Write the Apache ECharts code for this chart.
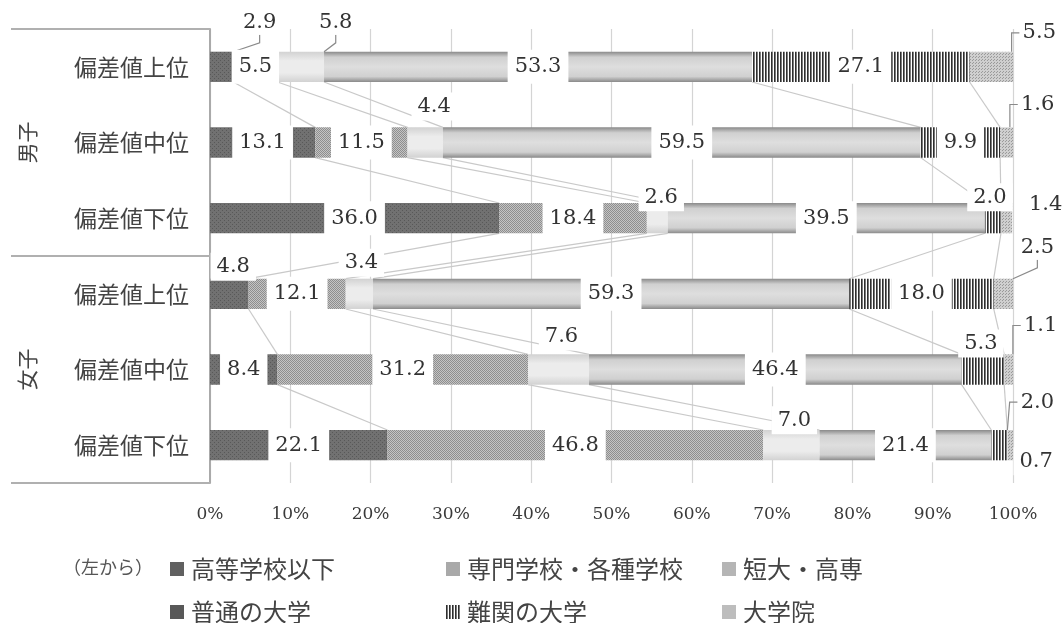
<!DOCTYPE html>
<html>
<head>
<meta charset="utf-8">
<script src="https://cdn.jsdelivr.net/npm/echarts@6/dist/echarts.min.js"></script>
<style>
  html, body { margin: 0; padding: 0; background: #fff; }
  #chart { width: 1064px; height: 623px; }
</style>
</head>
<body>
<div id="chart"></div>
<script>
// ---- data -------------------------------------------------------------
const rowLabels = ['偏差値上位', '偏差値中位', '偏差値下位', '偏差値上位', '偏差値中位', '偏差値下位'];
const groupLabels = ['男子', '女子'];
const seriesNames = ['高等学校以下', '専門学校・各種学校', '短大・高専', '普通の大学', '難関の大学', '大学院'];

const highSchool      = [2.9, 13.1, 36.0, 4.8, 8.4, 22.1];
const vocational      = [5.5, 11.5, 18.4, 12.1, 31.2, 46.8];
const juniorCollege   = [5.8, 4.4, 2.6, 3.4, 7.6, 7.0];
const university      = [53.3, 59.5, 39.5, 59.3, 46.4, 21.4];
const eliteUniversity = [27.1, 9.9, 2.0, 18.0, 5.3, 2.0];
const graduateSchool  = [5.5, 1.6, 1.4, 2.5, 1.1, 0.7];

const percentTicks = [0, 10, 20, 30, 40, 50, 60, 70, 80, 90, 100];

const seriesValues = [highSchool, vocational, juniorCollege, university, eliteUniversity, graduateSchool];

// ---- label placement (offset from segment centre, leader line flag) ----
// key: seriesIndex-rowIndex
const movedLabels = {
  '0-0': [38, -44, true],
  '2-0': [35, -44, true],
  '5-0': [48, -34, true],
  '2-1': [9, -36, false],
  '5-1': [31, -38, true],
  '2-2': [4, -21, false],
  '4-2': [-3, -21, false],
  '5-2': [39, -14, false],
  '0-3': [4, -27, false],
  '2-3': [2, -31, false],
  '5-3': [34, -46, true],
  '2-4': [3, -33, false],
  '4-4': [-2, -26, false],
  '5-4': [32, -44, true],
  '2-5': [3, -25, false],
  '4-5': [38, -43, true],
  '5-5': [26, 16, false]
};

// ---- fills --------------------------------------------------------------
function pattern(w, h, draw) {
  const c = document.createElement('canvas');
  c.width = w; c.height = h;
  draw(c.getContext('2d'));
  return { image: c, repeat: 'repeat' };
}
const fills = [
  pattern(4, 4, g => {            // dark dotted
    g.fillStyle = '#717171'; g.fillRect(0, 0, 4, 4);
    g.fillStyle = '#585858'; g.fillRect(0, 0, 1, 1); g.fillRect(2, 2, 1, 1);
  }),
  pattern(2, 2, g => {            // fine checker
    g.fillStyle = '#c4c4c4'; g.fillRect(0, 0, 2, 2);
    g.fillStyle = '#8e8e8e'; g.fillRect(0, 0, 1, 1); g.fillRect(1, 1, 1, 1);
  }),
  {                               // pale
    type: 'linear', x: 0, y: 0, x2: 0, y2: 1,
    colorStops: [
      { offset: 0, color: '#d2d2d2' }, { offset: 0.3, color: '#ececec' },
      { offset: 0.7, color: '#ececec' }, { offset: 1, color: '#d2d2d2' }
    ]
  },
  {                               // shaded light gray
    type: 'linear', x: 0, y: 0, x2: 0, y2: 1,
    colorStops: [
      { offset: 0, color: '#8a8a8a' }, { offset: 0.18, color: '#d0d0d0' },
      { offset: 0.5, color: '#dedede' }, { offset: 0.82, color: '#d0d0d0' },
      { offset: 1, color: '#8a8a8a' }
    ]
  },
  pattern(3, 2, g => {            // vertical stripes
    g.fillStyle = '#ffffff'; g.fillRect(0, 0, 3, 2);
    g.fillStyle = '#2e2e2e'; g.fillRect(0, 0, 1, 2);
    g.fillStyle = '#7a7a7a'; g.fillRect(1, 0, 1, 2);
  }),
  pattern(3, 3, g => {            // light dotted
    g.fillStyle = '#cfcfcf'; g.fillRect(0, 0, 3, 3);
    g.fillStyle = '#9a9a9a'; g.fillRect(0, 0, 1, 1); g.fillRect(1, 2, 1, 1);
  })
];
const legendColors = ['#606060', '#a9a9a9', '#b5b5b5', '#585858', null, '#bdbdbd'];

// cumulative boundaries for the connecting lines
const cumulative = rowLabels.map((_, r) => {
  let s = 0;
  return seriesValues.slice(0, 5).map(arr => (s += arr[r]));
});

const serifFont = 'DejaVu Serif';
const sansFont = 'Noto Sans CJK JP';

const barSeries = seriesNames.map((name, si) => ({
  name,
  type: 'bar',
  stack: 'total',
  barCategoryGap: '60%',
  z: 2,
  itemStyle: { color: fills[si] },
  label: {
    show: true,
    position: 'inside',
    formatter: p => Number(p.value).toFixed(1),
    color: '#333',
    fontFamily: serifFont,
    fontSize: 21,
    lineHeight: 22,
    backgroundColor: '#fff',
    padding: [6, 7],
    textBorderWidth: 0
  },
  labelLine: { show: false, lineStyle: { color: '#8a8a8a', width: 1.2 } },
  labelLayout: p => {
    const m = movedLabels[p.seriesIndex + '-' + p.dataIndex];
    return m ? { dx: m[0], dy: m[1] } : {};
  },
  emphasis: { disabled: true },
  data: seriesValues[si].map((v, r) => {
    const m = movedLabels[si + '-' + r];
    if (!m) return v;
    return {
      value: v,
      label: { padding: m[2] ? [2, 3] : [4, 6], lineHeight: 20 },
      labelLine: { show: m[2], length2: 8, lineStyle: { color: '#8a8a8a', width: 1.2 } }
    };
  })
}));

const connectorSeries = {
  type: 'custom',
  coordinateSystem: 'cartesian2d',
  silent: true,
  z: 1,
  data: rowLabels.slice(0, -1).map((_, r) => [0, r]),
  renderItem: (params, api) => {
    const r = params.dataIndex;
    const half = api.size([0, 1])[1] * 0.2;
    const children = cumulative[r].map((v, k) => {
      const a = api.coord([v, r]);
      const b = api.coord([cumulative[r + 1][k], r + 1]);
      return {
        type: 'line',
        shape: { x1: a[0], y1: a[1] + half, x2: b[0], y2: b[1] - half },
        style: { stroke: '#c9c9c9', lineWidth: 1.2 }
      };
    });
    return { type: 'group', children };
  }
};

const legendLeft = [165, 441, 717, 165, 441, 717];
const legendTop = [552, 552, 552, 595, 595, 595];
const legends = seriesNames.map((name, i) => ({
  data: [legendColors[i] ? { name, itemStyle: { color: legendColors[i] } } : { name }],
  left: legendLeft[i],
  top: legendTop[i],
  icon: 'rect',
  itemWidth: 14,
  itemHeight: 14,
  selectedMode: false,
  textStyle: { fontFamily: sansFont, fontSize: 24, color: '#444', padding: [0, 0, 0, 2] }
}));

const chart = echarts.init(document.getElementById('chart'), null, { renderer: 'canvas' });
chart.setOption({
  animation: false,
  backgroundColor: '#fff',
  title: {
    text: '（左から）',
    left: 58,
    top: 553,
    textStyle: { fontFamily: sansFont, fontSize: 18, fontWeight: 'normal', color: '#555' }
  },
  legend: legends,
  grid: { left: 210, right: 51, top: 29, bottom: 140, outerBoundsMode: 'none' },
  xAxis: {
    type: 'value',
    min: percentTicks[0],
    max: percentTicks[percentTicks.length - 1],
    interval: 10,
    axisLine: { show: false },
    axisTick: { show: false },
    splitLine: { show: true, lineStyle: { color: '#d4d4d4', width: 1.2 } },
    axisLabel: {
      margin: 23,
      formatter: '{value}%',
      fontFamily: serifFont,
      fontSize: 17,
      color: '#3a3a3a'
    }
  },
  yAxis: [
    {
      type: 'category',
      data: rowLabels,
      inverse: true,
      axisLine: { show: true, lineStyle: { color: '#aaaaaa', width: 2 } },
      axisTick: { show: false },
      axisLabel: { margin: 21, fontFamily: sansFont, fontSize: 23, color: '#444' }
    },
    {
      type: 'category',
      data: groupLabels,
      inverse: true,
      position: 'left',
      axisLine: { show: false },
      axisTick: { show: true, length: 199, lineStyle: { color: '#b0b0b0', width: 2 } },
      axisLabel: { rotate: 90, margin: 172, fontFamily: sansFont, fontSize: 21, color: '#444' },
      splitLine: { show: false }
    }
  ],
  series: barSeries.concat([connectorSeries])
});
</script>
</body>
</html>
